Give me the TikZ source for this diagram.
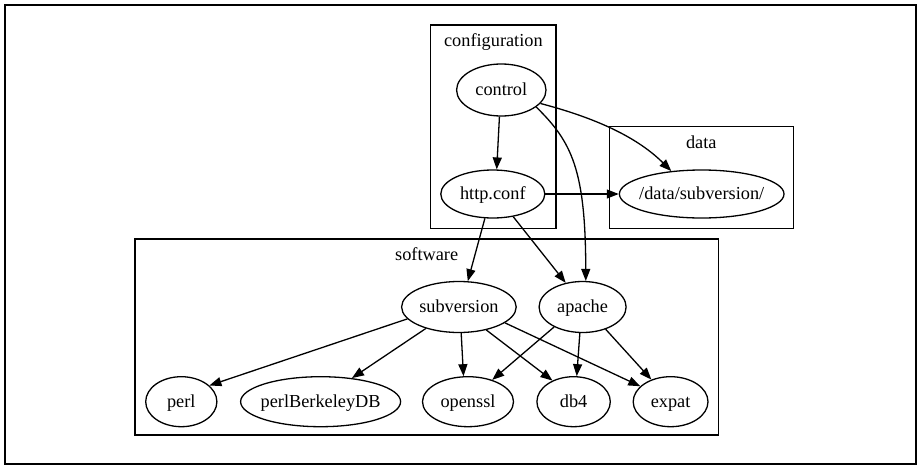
\documentclass[tikz,border=0pt]{standalone}
\usepackage{fontspec}
\setmainfont{Liberation Serif}
\usetikzlibrary{shapes.geometric,arrows.meta}
\newcommand\glab[1]{\makebox[0pt]{#1}}
\begin{document}
\begin{tikzpicture}[x=1pt,y=-1pt,
  every node/.style={font=\fontsize{18.3}{22}\selectfont},
  gnode/.style={ellipse,draw,line width=1.3pt,inner sep=0pt,text height=13pt,text depth=2pt},
  cluster/.style={rectangle,draw,line width=1.3pt,inner sep=0pt},
  clabel/.style={anchor=base,inner sep=0pt},
  edge/.style={line width=1.3pt,-{Triangle[length=12pt,width=9pt]}},
  frame/.style={draw,line width=2pt}]
\useasboundingbox (0,0) rectangle (921,466);
\draw[frame] (4.7,4.7) rectangle (916.3,464);
% clusters
\node[cluster,minimum width=125.3pt,minimum height=203.3pt] (configbox) at (493.35,126.65) {};
\node[cluster,minimum width=184pt,minimum height=101.6pt] (databox) at (701.3,177.5) {};
\node[cluster,minimum width=583.3pt,minimum height=196pt] (softbox) at (426.65,337) {};
\node[clabel] (configlabel) at (493.4,46.6) {configuration};
\node[clabel] (datalabel) at (701.3,148.3) {data};
\node[clabel] (softlabel) at (426.7,260.8) {software};
% nodes
\node[gnode,minimum width=89.4pt,minimum height=52pt] (control) at (501.3,90) {\glab{control}};
\node[gnode,minimum width=104pt,minimum height=48pt] (http) at (492.8,194) {\glab{http.conf}};
\node[gnode,minimum width=164.6pt,minimum height=48pt] (data) at (701.7,194) {\glab{/data/subversion/}};
\node[gnode,minimum width=114.6pt,minimum height=51pt] (subversion) at (458.9,307) {\glab{subversion}};
\node[gnode,minimum width=87pt,minimum height=51pt] (apache) at (582.6,307) {\glab{apache}};
\node[gnode,minimum width=71.2pt,minimum height=50pt] (perl) at (181.3,401.7) {\glab{perl}};
\node[gnode,minimum width=160pt,minimum height=50pt] (perlbdb) at (320.6,401.7) {\glab{perlBerkeleyDB}};
\node[gnode,minimum width=91pt,minimum height=50pt] (openssl) at (468,401.7) {\glab{openssl}};
\node[gnode,minimum width=73.4pt,minimum height=50pt] (db4) at (573.6,401.7) {\glab{db4}};
\node[gnode,minimum width=74.8pt,minimum height=50pt] (expat) at (670.6,401.7) {\glab{expat}};
% edges
\draw[edge] (control.-94) -- (http.81);
\draw[edge] (control.-19) .. controls (588,116) and (634,134) .. (data.143);
\draw[edge] (control.-26) .. controls (572,142) and (585.5,170) .. (apache.83);
\draw[edge] (http) -- (data);
\draw[edge] (http.-108) -- (subversion.71);
\draw[edge] (http.-48) -- (apache.125);
\draw[edge] (subversion.193) -- (perl.30);
\draw[edge] (subversion.213) -- (perlbdb.37);
\draw[edge] (subversion.-85) -- (openssl.100);
\draw[edge] (subversion.-40) -- (db4.135);
\draw[edge] (subversion.-19) -- (expat.153);
\draw[edge] (apache.215) -- (openssl.42);
\draw[edge] (apache.-96) -- (db4.83);
\draw[edge] (apache.-44) -- (expat.131);
\end{tikzpicture}
\end{document}
